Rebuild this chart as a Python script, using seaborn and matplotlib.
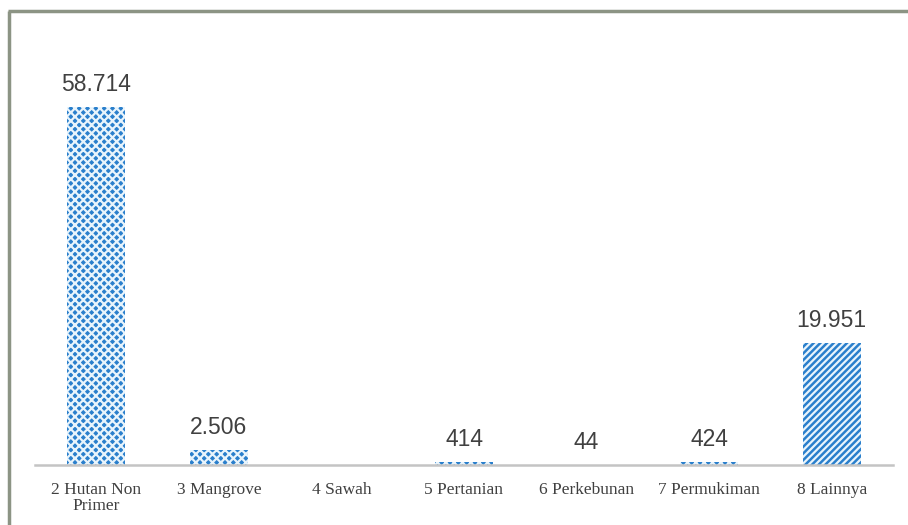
import matplotlib
matplotlib.use("Agg")
import matplotlib.pyplot as plt
from matplotlib.lines import Line2D
import seaborn as sns
import pandas as pd

categories = ["2 Hutan Non\nPrimer", "3 Mangrove", "4 Sawah", "5 Pertanian",
              "6 Perkebunan", "7 Permukiman", "8 Lainnya"]
values = [58714, 2506, 0, 414, 44, 424, 19951]
labels = ["58.714", "2.506", "", "414", "44", "424", "19.951"]
hatches = ["xxxx", "xxxx", "xxxx", "xxxx", "xxxx", "xxxx", "/////"]

sns.set_theme(style="white")
plt.rcParams["hatch.linewidth"] = 1.6

df = pd.DataFrame({"cat": categories, "val": values})

fig = plt.figure(figsize=(9.08, 5.25), dpi=100)
ax = fig.add_axes([35/908, (525-465)/525, (893-35)/908, (465-40)/525])
sns.barplot(data=df, x="cat", y="val", ax=ax, width=0.47, color="#1f78c8",
            saturation=1)

for p, h in zip(ax.patches, hatches):
    p.set_facecolor("#2a7fcc")
    p.set_edgecolor("#e8f4fc")
    p.set_linewidth(0)
    p.set_hatch(h)

for i, (v, t) in enumerate(zip(values, labels)):
    if t:
        ax.annotate(t, (i, v), xytext=(0, 8), textcoords="offset points",
                    ha="center", va="bottom", fontsize=16.5,
                    family="Liberation Sans", color="#404040")

ax.set_ylim(0, 58714 * 425 / 358)
ax.set_xlim(-0.5, 6.5)
ax.set_xlabel("")
ax.set_ylabel("")
ax.set_yticks([])
for s in ["top", "right", "left"]:
    ax.spines[s].set_visible(False)
ax.spines["bottom"].set_color("#c4c4c4")
ax.spines["bottom"].set_linewidth(1.8)
ax.tick_params(axis="x", length=0, pad=12)
for lab in ax.get_xticklabels():
    lab.set_fontfamily("Liberation Serif")
    lab.set_fontsize(12.5)
    lab.set_color("#404040")
    lab.set_linespacing(1.0)

bc = "#8c9484"
fig.add_artist(Line2D([9/908, 9/908], [0, 1 - 11/525], transform=fig.transFigure,
                      color=bc, linewidth=2.5, solid_capstyle="butt"))
fig.add_artist(Line2D([8/908, 1], [1 - 11/525, 1 - 11/525], transform=fig.transFigure,
                      color=bc, linewidth=2.5, solid_capstyle="butt"))

fig.savefig("out.png", dpi=100)
